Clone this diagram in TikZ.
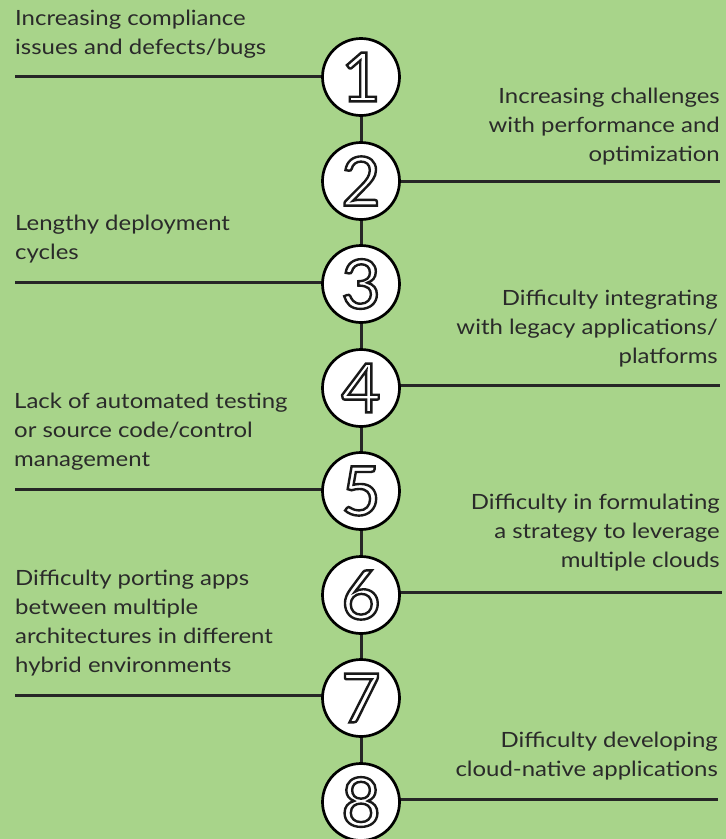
\documentclass[tikz,border=0pt]{standalone}
\usepackage{fontspec}
\setmainfont[FakeStretch=1.14]{Lato}
\newfontfamily\digitfont[FakeBold=3.5]{Lato}
\definecolor{bggreen}{HTML}{A8D48A}
\definecolor{txt}{HTML}{2A2A2A}
\newcommand{\outlinedigit}[1]{\color{white}\special{pdf:literal direct 0.1 G}#1}
\tikzset{
  bullet/.style={circle, draw=black, fill=white, line width=2.7pt, minimum size=77pt, inner sep=0pt},
  digit/.style={inner sep=0pt, font={\digitfont\fontsize{68}{68}\selectfont}},
  conn/.style={line width=3pt, color=black!85},
  ltext/.style={anchor=base west, align=left, inner sep=0pt, text=txt, font={\fontsize{21}{28.7}\selectfont}},
  rtext/.style={anchor=base east, align=right, inner sep=0pt, text=txt, font={\fontsize{21}{28.7}\selectfont}},
}
\begin{document}
\begin{tikzpicture}[x=1pt,y=-1pt]
\fill[bggreen] (0,0) rectangle (726,839);
\useasboundingbox (0,0) rectangle (726,839);
% circles
\foreach \i/\yy in {1/77,2/181,3/284,4/388,5/491,6/595,7/698,8/802}{
  \coordinate (c\i) at (361,\yy);
}
\foreach \i in {1,...,7}{
  \pgfmathtruncatemacro{\j}{\i+1}
  \draw[conn] (c\i) -- (c\j);
}
\coordinate (L1) at (15,76);
\coordinate (L3) at (15,282);
\coordinate (L5) at (15,489);
\coordinate (L7) at (15,695);
\coordinate (R2) at (720,181);
\coordinate (R4) at (720,385);
\coordinate (R6) at (722,592);
\coordinate (R8) at (718,799);
\foreach \i in {1,3,5,7}{ \draw[conn] (L\i) -- (L\i -| c\i); }
\foreach \i in {2,4,6,8}{ \draw[conn] (R\i -| c\i) -- (R\i); }
\foreach \i in {1,...,8}{
  \node[bullet] (b\i) at (c\i) {};
  \node[digit] (d\i) at (c\i) {\outlinedigit{\i}};
}
% texts
\node[ltext] (t1) at (15,54) {Increasing compliance\\issues and defects/bugs};
\node[rtext] (t2) at (720,161) {Increasing challenges\\with performance and\\optimization};
\node[ltext] (t3) at (15,259) {Lengthy deployment\\cycles};
\node[rtext] (t4) at (718,363) {Difficulty integrating\\with legacy applications/\\platforms};
\node[ltext] (t5) at (14,466) {Lack of automated testing\\or source code/control\\management};
\node[rtext] (t6) at (720,567) {Difficulty in formulating\\a strategy to leverage\\multiple clouds};
\node[ltext] (t7) at (15,672) {Difficulty porting apps\\between multiple\\architectures in different\\hybrid environments};
\node[rtext] (t8) at (718,776) {Difficulty developing\\cloud-native applications};
\end{tikzpicture}
\end{document}
